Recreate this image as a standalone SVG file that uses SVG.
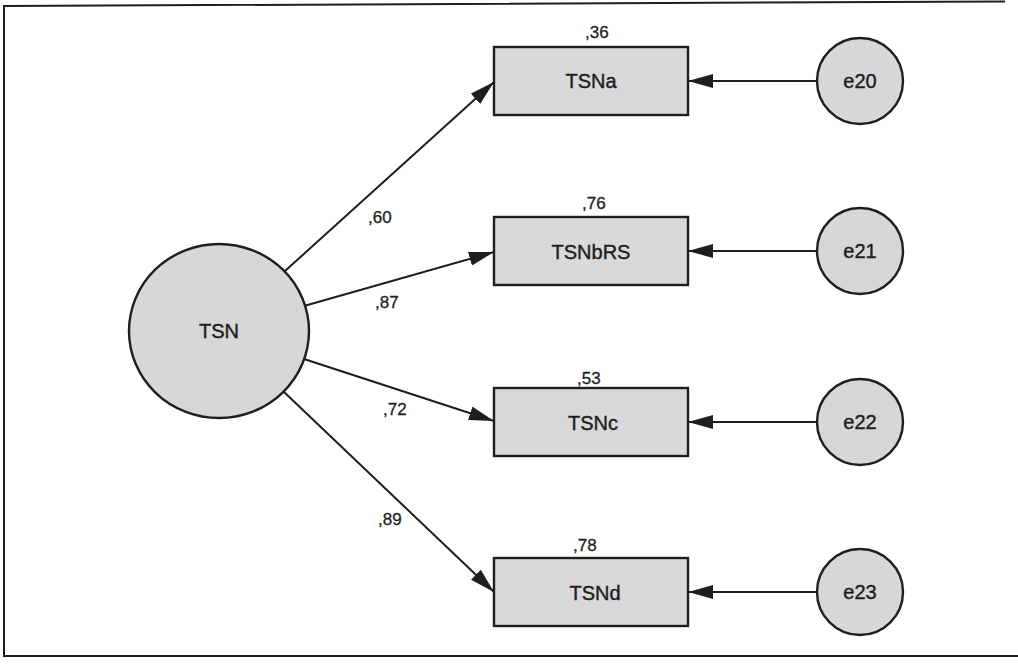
<svg xmlns="http://www.w3.org/2000/svg" width="1018" height="665" viewBox="0 0 1018 665">
<style>
.bg{fill:#ffffff}
.frame{fill:none;stroke:#1e1e1e;stroke-width:2}
.obs{fill:#d9d9d9;stroke:#1e1e1e;stroke-width:2.4}
.lat{fill:#d7d7d7;stroke:#1e1e1e;stroke-width:2.4}
.lbl{font-family:"Liberation Sans",Arial,sans-serif;font-size:20px;fill:#1e1e1e;stroke:#1e1e1e;stroke-width:0.4;text-anchor:middle}
.num{font-family:"Liberation Sans",Arial,sans-serif;font-size:17px;fill:#1e1e1e;stroke:#1e1e1e;stroke-width:0.3}
.edge{stroke:#1e1e1e;stroke-width:2;fill:none;marker-end:url(#ah)}
</style>
<defs>
<marker id="ah" markerUnits="userSpaceOnUse" markerWidth="26" markerHeight="14" refX="25" refY="7" orient="auto">
<path d="M0,0 L25,7 L0,14 Z" fill="#1e1e1e"/>
</marker>
</defs>
<rect class="bg" x="0" y="0" width="1018" height="665"/>
<path class="frame" d="M1005,1.5 L4,6 L4,656 L1018,656"/>
<g id="connectors">
<line class="edge" x1="285" y1="271" x2="494" y2="82"/>
<line class="edge" x1="304" y1="306" x2="494" y2="252"/>
<line class="edge" x1="304" y1="359" x2="494" y2="421"/>
<line class="edge" x1="284" y1="392" x2="494" y2="592"/>
<line class="edge" x1="817" y1="81" x2="688" y2="81"/>
<line class="edge" x1="817" y1="251" x2="688" y2="251"/>
<line class="edge" x1="817" y1="422" x2="688" y2="422"/>
<line class="edge" x1="817" y1="592" x2="688" y2="592"/>
<text class="num" x="368" y="223">,60</text>
<text class="num" x="375" y="308">,87</text>
<text class="num" x="383" y="415">,72</text>
<text class="num" x="378" y="525">,89</text>
</g>
<g id="TSN">
<ellipse class="lat" cx="219" cy="331" rx="90" ry="87"/>
<text class="lbl" x="219" y="338">TSN</text>
</g>
<g id="TSNa">
<rect class="obs" x="494" y="47" width="194" height="68"/>
<text class="lbl" x="591" y="88">TSNa</text>
<text class="num" x="585" y="38">,36</text>
</g>
<g id="TSNbRS">
<rect class="obs" x="494" y="217" width="194" height="68"/>
<text class="lbl" x="591" y="259">TSNbRS</text>
<text class="num" x="582" y="209">,76</text>
</g>
<g id="TSNc">
<rect class="obs" x="494" y="388" width="194" height="68"/>
<text class="lbl" x="593" y="430">TSNc</text>
<text class="num" x="577" y="384">,53</text>
</g>
<g id="TSNd">
<rect class="obs" x="494" y="558" width="194" height="68"/>
<text class="lbl" x="595" y="600">TSNd</text>
<text class="num" x="573" y="551">,78</text>
</g>
<g id="e20">
<circle class="lat" cx="860" cy="81" r="43"/>
<text class="lbl" x="860" y="88">e20</text>
</g>
<g id="e21">
<circle class="lat" cx="860" cy="251" r="43"/>
<text class="lbl" x="860" y="258">e21</text>
</g>
<g id="e22">
<circle class="lat" cx="860" cy="422" r="43"/>
<text class="lbl" x="860" y="429">e22</text>
</g>
<g id="e23">
<circle class="lat" cx="860" cy="592" r="43"/>
<text class="lbl" x="860" y="599">e23</text>
</g>
</svg>
